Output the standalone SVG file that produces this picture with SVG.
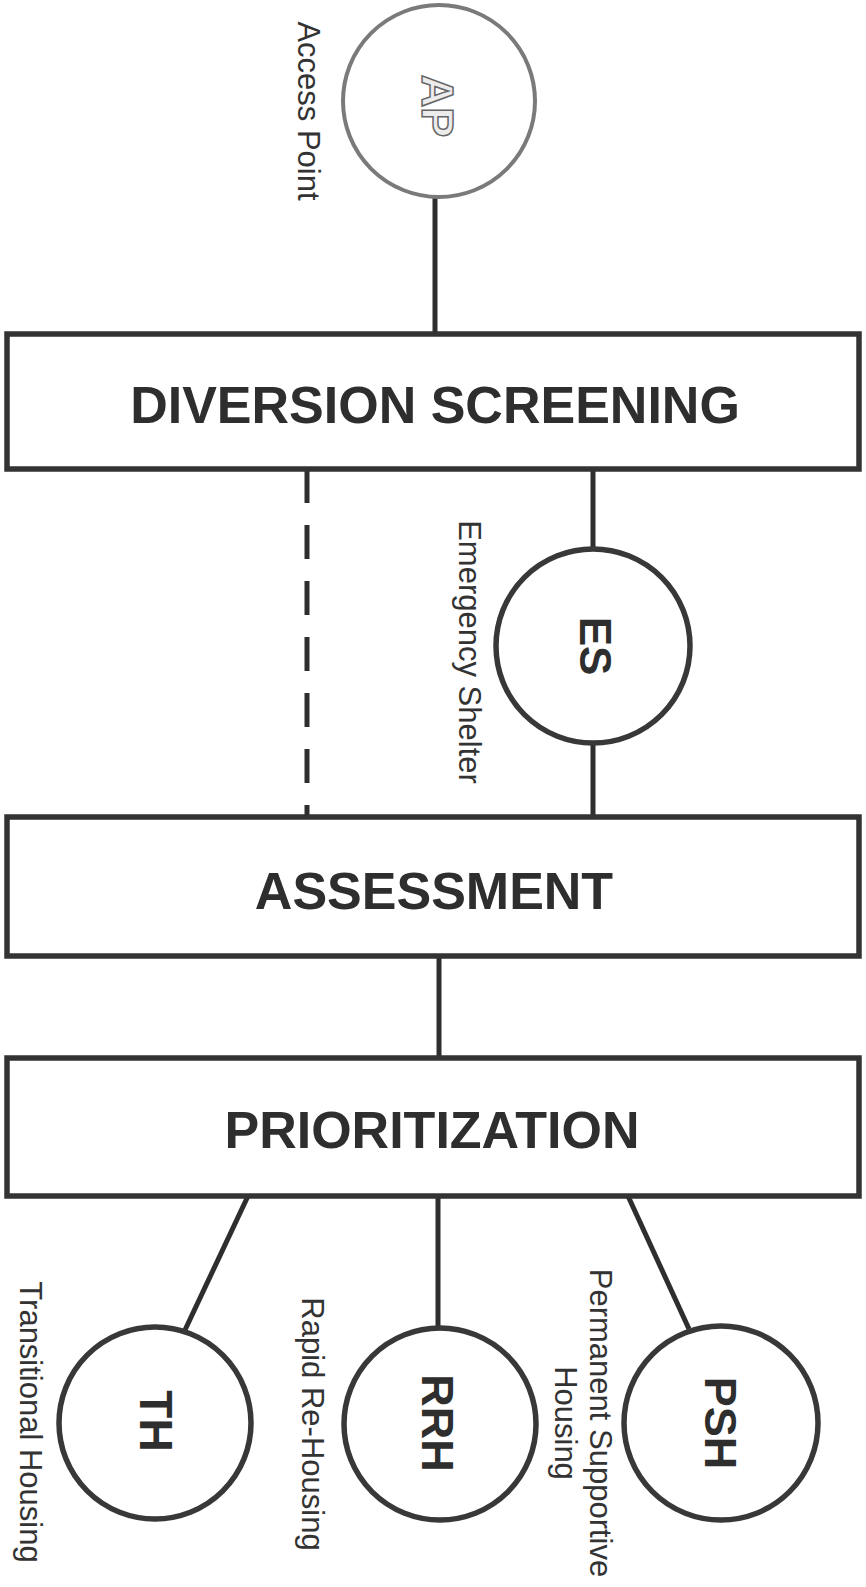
<svg xmlns="http://www.w3.org/2000/svg" width="866" height="1587" viewBox="0 0 866 1587">
<style>
.box{fill:#fff;stroke:#333;stroke-width:5.5}
.circ{fill:#fff;stroke:#383838;stroke-width:5.5}
.ln{stroke:#2e2e2e;stroke-width:5;fill:none}
.big{font-family:"Liberation Sans",Arial,sans-serif;font-weight:bold;font-size:52px;fill:#2e2e2e;text-anchor:middle}
.cl{font-family:"Liberation Sans",Arial,sans-serif;font-weight:bold;font-size:45px;fill:#2e2e2e;text-anchor:middle}
.lbl{font-family:"Liberation Sans",Arial,sans-serif;font-size:31px;fill:#333;text-anchor:middle}
</style>
<rect width="866" height="1587" fill="#fff"/>
<g id="connectors">
<line class="ln" x1="435" y1="198" x2="435" y2="334"/>
<line class="ln" x1="307" y1="469" x2="307" y2="817" stroke-width="6" stroke-dasharray="34 22"/>
<line class="ln" x1="593" y1="469" x2="593" y2="549"/>
<line class="ln" x1="593" y1="743" x2="593" y2="817"/>
<line class="ln" x1="439" y1="956" x2="439" y2="1058"/>
<line class="ln" x1="248" y1="1196" x2="185" y2="1330"/>
<line class="ln" x1="438" y1="1196" x2="438" y2="1328"/>
<line class="ln" x1="628" y1="1196" x2="689" y2="1329"/>
</g>
<g id="ap">
<circle cx="439" cy="101" r="96" fill="#fff" stroke="#7a7a7a" stroke-width="4"/>
<text class="cl" transform="translate(422,106) rotate(90)" style="fill:#ececec;stroke:#666;stroke-width:1.5">AP</text>
<text class="lbl" transform="translate(298,111) rotate(90)">Access Point</text>
</g>
<g id="diversion">
<rect class="box" x="7" y="334" width="852" height="135"/>
<text class="big" x="435" y="423">DIVERSION SCREENING</text>
</g>
<g id="es">
<circle class="circ" cx="593" cy="646" r="97"/>
<text class="cl" transform="translate(580,646) rotate(90)" style="font-size:44px">ES</text>
<text class="lbl" transform="translate(459,652) rotate(90)">Emergency Shelter</text>
</g>
<g id="assessment">
<rect class="box" x="7" y="817" width="852" height="139"/>
<text class="big" x="434" y="909">ASSESSMENT</text>
</g>
<g id="prioritization">
<rect class="box" x="7" y="1058" width="852" height="138"/>
<text class="big" x="432" y="1148">PRIORITIZATION</text>
</g>
<g id="th">
<circle class="circ" cx="155" cy="1423" r="96"/>
<text class="cl" transform="translate(140,1421) rotate(90)" style="font-size:46px">TH</text>
<text class="lbl" transform="translate(20,1422) rotate(90)">Transitional Housing</text>
</g>
<g id="rrh">
<circle class="circ" cx="440" cy="1424" r="96"/>
<text class="cl" transform="translate(422,1423) rotate(90)">RRH</text>
<text class="lbl" transform="translate(302,1424) rotate(90)">Rapid Re-Housing</text>
</g>
<g id="psh">
<circle class="circ" cx="721" cy="1423" r="97"/>
<text class="cl" transform="translate(705,1423) rotate(90)">PSH</text>
<text class="lbl" transform="translate(590,1423) rotate(90)">Permanent Supportive</text>
<text class="lbl" transform="translate(555,1423) rotate(90)">Housing</text>
</g>
</svg>
